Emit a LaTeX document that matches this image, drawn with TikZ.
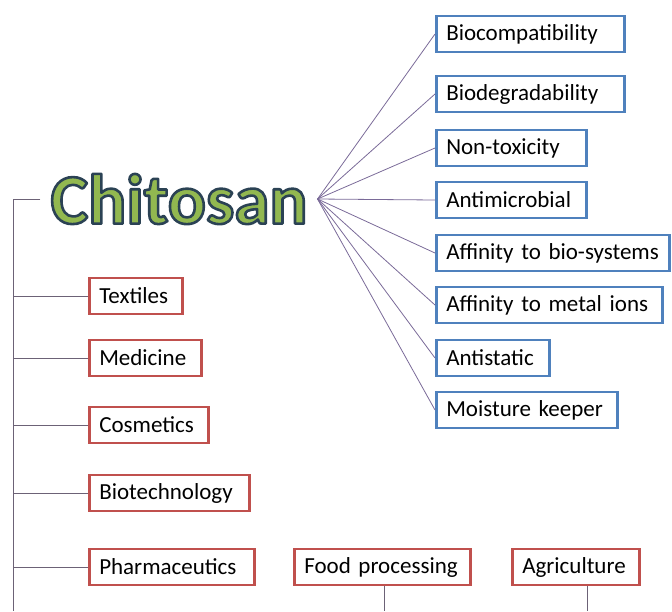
\documentclass[tikz,border=0pt]{standalone}
\usepackage{fontspec}
\setmainfont{Carlito}[WordSpace=0.75]
\usetikzlibrary{positioning}

\definecolor{propblue}{RGB}{79,129,189}
\definecolor{appred}{RGB}{192,80,77}
\definecolor{chitogreen}{RGB}{146,184,80}
\definecolor{fanline}{RGB}{122,106,152}
\definecolor{branchline}{RGB}{108,98,118}

% filled letters with a dark stroke round them
\newcommand{\edgedtext}[1]{\special{pdf:literal direct 1 j 2.6 w 0.17 0.26 0.33 RG 2 Tr}#1\special{pdf:literal direct 0 Tr}}

\tikzset{
  propbox/.style={rectangle, draw=propblue, line width=2.5pt, minimum height=36pt, inner xsep=10pt, align=left, anchor=west, font=\fontsize{23}{27}\selectfont},
  appbox/.style={rectangle, draw=appred, line width=2.5pt, minimum height=36pt, inner xsep=10pt, align=left, anchor=west, font=\fontsize{23}{27}\selectfont},
  fan/.style={draw=fanline, line width=0.8pt},
  branch/.style={draw=branchline, line width=1pt}
}

\begin{document}
\begin{tikzpicture}[x=1pt, y=-1pt]
        \useasboundingbox (0,0) rectangle (672,611);
        % Nodes
        \node (chitosan) [text=chitogreen, inner xsep=10pt, font=\bfseries\fontsize{71}{80}\selectfont] at (179,199) {\edgedtext{Chitosan}};
        \node (biocomp) [propbox, text width=168pt] at (435,34) {Biocompatibility};
        \node (biodeg) [propbox, text width=168pt] at (435,94) {Biodegradability};
        \node (nontox) [propbox, text width=130pt] at (435,148) {Non-toxicity};
        \node (antimicro) [propbox, text width=130pt] at (435,200) {Antimicrobial};
        \node (affbio) [propbox, text width=213pt] at (435,253) {Affinity to bio-systems};
        \node (affmetal) [propbox, text width=206pt] at (435,305) {Affinity to metal ions};
        \node (antistatic) [propbox, text width=93pt] at (435,358) {Antistatic};
        \node (moisture) [propbox, text width=161pt] at (435,410) {Moisture keeper};
        \node (textiles) [appbox, text width=73pt] at (88,296) {Textiles};
        \node (medicine) [appbox, text width=92pt] at (88,358) {Medicine};
        \node (cosmetics) [appbox, text width=99pt] at (88,425) {Cosmetics};
        \node (biotech) [appbox, text width=140pt] at (88,493) {Biotechnology};
        \node (pharma) [appbox, text width=145pt] at (88,567) {Pharmaceutics};
        \node (food) [appbox, text width=156pt] at (293,567) {Food processing};
        \node (agri) [appbox, text width=107pt] at (511,567) {Agriculture};
        \coordinate (trunktop) at (13,199);
        \coordinate (trunkend) at (13,611);
        \coordinate (foodend) at (384,611);
        \coordinate (agriend) at (587,611);
        % Lines
        \draw[fan] (chitosan.east) -- (biocomp.west);
        \draw[fan] (chitosan.east) -- (biodeg.west);
        \draw[fan] (chitosan.east) -- (nontox.west);
        \draw[fan] (chitosan.east) -- (antimicro.west);
        \draw[fan] (chitosan.east) -- (affbio.west);
        \draw[fan] (chitosan.east) -- (affmetal.west);
        \draw[fan] (chitosan.east) -- (antistatic.west);
        \draw[fan] (chitosan.east) -- (moisture.west);
        \draw[branch] (chitosan.west) -- (trunktop) -- (trunkend);
        \draw[branch] (trunktop |- textiles.west) -- (textiles.west);
        \draw[branch] (trunktop |- medicine.west) -- (medicine.west);
        \draw[branch] (trunktop |- cosmetics.west) -- (cosmetics.west);
        \draw[branch] (trunktop |- biotech.west) -- (biotech.west);
        \draw[branch] (trunktop |- pharma.west) -- (pharma.west);
        \draw[branch] (food.south -| foodend) -- (foodend);
        \draw[branch] (agri.south -| agriend) -- (agriend);
      \end{tikzpicture}
\end{document}
